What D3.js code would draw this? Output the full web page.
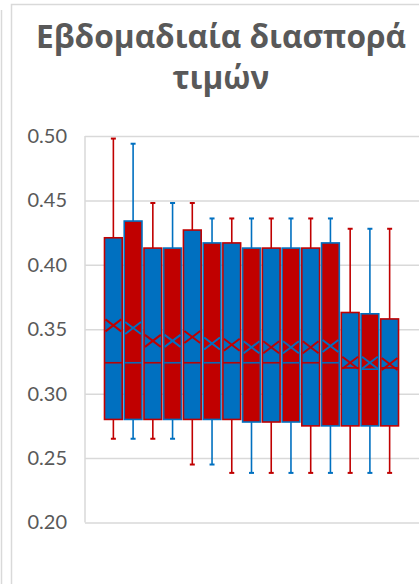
<!DOCTYPE html>
<html>
<head>
<meta charset="utf-8">
<script src="https://cdn.jsdelivr.net/npm/d3@7"></script>
<style>
  html, body { margin: 0; padding: 0; background: #ffffff; }
  svg { display: block; }
</style>
</head>
<body>
<svg id="chart" width="419" height="584"></svg>
<script>
// ---- data ----
const titleLines = ["Εβδομαδιαία διασπορά", "τιμών"];
const categories = ["1","2","3","4","5","6","7","8","9","10","11","12","13","14","15"];
const whiskerHigh = [0.498, 0.494, 0.448, 0.448, 0.448, 0.436, 0.436, 0.436, 0.436, 0.436, 0.436, 0.436, 0.428, 0.428, 0.428];
const q3Values    = [0.421, 0.434, 0.413, 0.413, 0.427, 0.417, 0.417, 0.413, 0.413, 0.413, 0.413, 0.417, 0.363, 0.362, 0.358];
const medianValues= [0.324, 0.324, 0.324, 0.324, 0.324, 0.324, 0.324, 0.324, 0.324, 0.324, 0.324, 0.324, 0.320, 0.319, 0.320];
const q1Values    = [0.280, 0.280, 0.280, 0.280, 0.280, 0.280, 0.280, 0.278, 0.278, 0.278, 0.275, 0.275, 0.275, 0.275, 0.275];
const whiskerLow  = [0.265, 0.265, 0.265, 0.265, 0.245, 0.245, 0.2385, 0.2385, 0.2385, 0.2385, 0.2385, 0.2385, 0.2385, 0.2385, 0.2385];
const meanValues  = [0.353, 0.351, 0.341, 0.341, 0.344, 0.339, 0.338, 0.336, 0.336, 0.336, 0.336, 0.337, 0.324, 0.324, 0.323];
const yTicks = [0.20, 0.25, 0.30, 0.35, 0.40, 0.45, 0.50];

// ---- styles ----
const BLUE = "#0070C0", RED = "#C00000";
const GRID = "#d9d9d9", TEXT = "#595959";

const svg = d3.select("#chart");

// chart borders (this chart and neighbour edge)
svg.append("rect").attr("x", 11.5).attr("y", 4.5).attr("width", 600).attr("height", 800)
  .attr("fill", "none").attr("stroke", GRID).attr("stroke-width", 1.5);
svg.append("line").attr("x1", 1.5).attr("x2", 1.5).attr("y1", 10).attr("y2", 584)
  .attr("stroke", GRID).attr("stroke-width", 1.5);

// title
const title = svg.append("g");
titleLines.forEach((t, i) => {
  const el = title.append("text")
    .attr("x", 221).attr("y", 48 + i * 41)
    .attr("text-anchor", "middle")
    .attr("font-family", "'Open Sans', 'Noto Sans', sans-serif")
    .attr("font-weight", "bold").attr("font-size", 24)
    .attr("fill", TEXT).text(t);
  if (i === 0) {
    const w = el.node().getComputedTextLength();
    const fs = 24 * 370 / w;
    title.selectAll("text").attr("font-size", fs);
    title.attr("data-fs", fs);
  } else {
    el.attr("font-size", +title.attr("data-fs"));
  }
});

// scales
const plotLeft = 85, plotRight = 640;
const y = d3.scaleLinear().domain([0.20, 0.50]).range([522.5, 136]);
const x = d3.scaleBand().domain(categories).range([103.5, 399.5]).paddingInner(0.1).paddingOuter(0.05);

// gridlines
const grid = svg.append("g").attr("transform", `translate(${plotLeft},0)`)
  .call(d3.axisLeft(y).tickValues(yTicks).tickSize(-(plotRight - plotLeft)).tickFormat(""));
grid.select(".domain").remove();
grid.selectAll(".tick line").attr("stroke", GRID).attr("stroke-width", 1.5);

// left plot border
svg.append("line").attr("x1", plotLeft).attr("x2", plotLeft)
  .attr("y1", y(0.50)).attr("y2", y(0.20))
  .attr("stroke", GRID).attr("stroke-width", 1.5);

// y axis labels
const yAxis = svg.append("g").attr("transform", `translate(${plotLeft},0)`)
  .call(d3.axisLeft(y).tickValues(yTicks).tickSize(0).tickPadding(18).tickFormat(d3.format(".2f")));
yAxis.select(".domain").remove();
yAxis.selectAll("text").attr("font-family", "Lato, 'Liberation Sans', sans-serif")
  .attr("font-size", 20).attr("fill", TEXT);

// boxes
const data = categories.map((c, i) => ({
  c, hi: whiskerHigh[i], q3: q3Values[i], med: medianValues[i], q1: q1Values[i],
  lo: whiskerLow[i], mean: meanValues[i],
  fill: i % 2 === 0 ? BLUE : RED, stroke: i % 2 === 0 ? RED : BLUE
}));

const bw = x.bandwidth();
const g = svg.append("g").selectAll("g").data(data).join("g");

// whiskers
g.append("line").attr("x1", d => x(d.c) + bw / 2).attr("x2", d => x(d.c) + bw / 2)
  .attr("y1", d => y(d.hi)).attr("y2", d => y(d.q3))
  .attr("stroke", d => d.stroke).attr("stroke-width", 1.6);
g.append("line").attr("x1", d => x(d.c) + bw / 2).attr("x2", d => x(d.c) + bw / 2)
  .attr("y1", d => y(d.q1)).attr("y2", d => y(d.lo))
  .attr("stroke", d => d.stroke).attr("stroke-width", 1.6);
// caps
[["hi"], ["lo"]].forEach(([k]) => {
  g.append("line").attr("x1", d => x(d.c) + bw / 2 - 2.5).attr("x2", d => x(d.c) + bw / 2 + 2.5)
    .attr("y1", d => y(d[k])).attr("y2", d => y(d[k]))
    .attr("stroke", d => d.stroke).attr("stroke-width", 2);
});

// box
g.append("rect").attr("x", d => x(d.c)).attr("width", bw)
  .attr("y", d => y(d.q3)).attr("height", d => y(d.q1) - y(d.q3))
  .attr("fill", d => d.fill).attr("stroke", d => d.stroke).attr("stroke-width", 1.6);

// median
g.append("line").attr("x1", d => x(d.c)).attr("x2", d => x(d.c) + bw)
  .attr("y1", d => y(d.med)).attr("y2", d => y(d.med))
  .attr("stroke", d => d.stroke).attr("stroke-width", 1.6);

// mean marker (X)
const hx = bw / 2 - 1, hy = 6;
g.append("path")
  .attr("d", d => {
    const cx = x(d.c) + bw / 2, cy = y(d.mean);
    return `M${cx - hx},${cy - hy}L${cx + hx},${cy + hy}M${cx - hx},${cy + hy}L${cx + hx},${cy - hy}`;
  })
  .attr("fill", "none").attr("stroke", d => d.stroke).attr("stroke-width", 2);
</script>
</body>
</html>
